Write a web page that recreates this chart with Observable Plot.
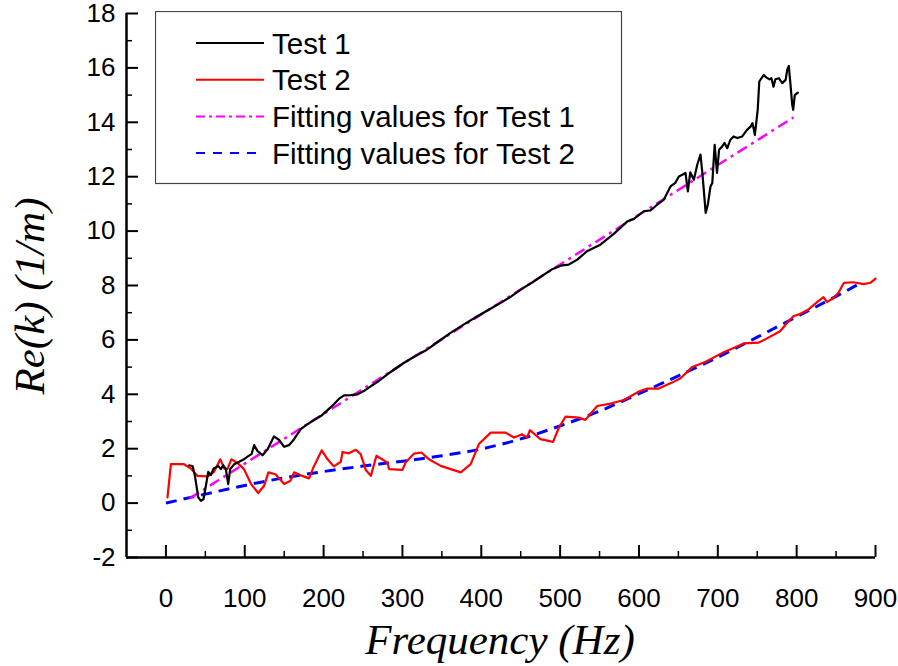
<!DOCTYPE html>
<html>
<head>
<meta charset="utf-8">
<script src="https://cdn.jsdelivr.net/npm/d3@7"></script>
<script src="https://cdn.jsdelivr.net/npm/@observablehq/plot@0.6"></script>
<style>
  html, body { margin: 0; padding: 0; background: #fff; }
  #chart { position: relative; width: 898px; height: 666px; }
  #legend { position: absolute; left: 155px; top: 11px; }
</style>
</head>
<body>
<div id="chart"></div>
<script>
// ---- Data ----
const test1Freq = [29.5,34,36.8,41,44.4,47.7,50.7,53.7,57,60.4,63.4,66.3,69.7,72.7,76,79,81.5,86.6,92.9,99,103.5,108.6,112,116,122.5,129,137,143.6,150,156,162.6,171,179.6,188,196.5,205,213,219.7,226,234.5,243,251,260,270,285,302,316,331.6,346,361,378,395,410,424.6,438,450,465,479.5,490,500.6,511,521.8,534,551,568,585,593.6,606,614.7,623,631.6,640,646,650.6,655,659,662,665,669.6,673.9,678,680.4,684.6,687.3,690.7,693,696,699,701.6,705.4,708.5,712,716,720,724.6,731,737,741.8,744,747,750.6,752.6,758.3,761,765.4,768,770.6,773,777.4,781.7,786,788,790,792,794.4,795.6,797.6,801.5];
const test1Value = [1.39,1.35,1.0,0.21,0.08,0.15,0.64,1.15,1.03,1.27,1.31,1.37,1.25,1.39,1.25,0.70,1.25,1.43,1.52,1.61,1.71,1.80,2.13,1.92,1.76,1.98,2.45,2.32,2.07,2.13,2.35,2.72,2.90,3.06,3.2,3.42,3.63,3.84,3.96,3.97,4.0,4.12,4.3,4.49,4.82,5.16,5.40,5.65,5.95,6.26,6.57,6.87,7.12,7.36,7.60,7.85,8.12,8.40,8.60,8.73,8.77,8.95,9.26,9.50,9.90,10.35,10.45,10.73,10.76,10.97,11.16,11.64,11.77,12.01,12.07,12.14,11.46,12.16,11.89,12.44,12.81,12.14,10.67,10.97,11.64,11.77,13.17,12.14,12.99,13.11,13.24,13.05,13.36,13.48,13.42,13.48,13.72,13.85,13.97,13.54,14.46,15.50,15.74,15.66,15.58,15.62,15.31,15.58,15.62,15.44,15.56,15.93,16.07,15.44,14.64,14.46,15.0,15.09];

const test2Freq = [2,6.3,23,31.7,40,53,61,69,74,78,83,91,99,108,117,124.6,130,139,150,158,162.6,173,181.6,187,197.7,205,213,221.8,224,232,240.8,247,253.5,260,267,281,283,300,304,314.7,324,333.7,348.5,374,386.6,397,412,431,441.5,452,458,461.7,475,491,498.5,507,524,532,547,564,581,600,610.5,625,642,652.7,667.5,684,707.6,733,752,760,779,788,796,805,815,826,834,838.6,847,853,860,872,885,893.5,900];
const test2Value = [0.21,1.43,1.43,1.27,1.0,0.98,1.15,1.61,1.27,1.25,1.61,1.47,1.25,0.70,0.37,0.64,1.13,1.06,0.70,0.82,1.13,1.0,0.91,1.31,1.94,1.61,1.35,1.52,1.88,1.83,1.96,1.80,1.22,1.0,1.74,1.49,1.25,1.22,1.49,1.82,1.86,1.61,1.37,1.13,1.43,2.17,2.59,2.59,2.41,2.53,2.41,2.68,2.35,2.25,2.78,3.18,3.14,3.06,3.57,3.66,3.79,4.10,4.21,4.21,4.43,4.59,5.0,5.19,5.55,5.87,5.90,6.02,6.32,6.63,6.87,6.96,7.12,7.39,7.57,7.39,7.55,7.73,8.10,8.12,8.05,8.10,8.25];

const fit1Freq  = [30,100,200,300,400,500,600,700,796];
const fit1Value = [0.17,1.45,3.28,5.11,6.94,8.77,10.6,12.43,14.18];

const fit2Freq  = [0,50,100,150,200,250,300,350,400,450,500,550,600,650,700,750,800,850,883];
const fit2Value = [0,0.33,0.65,0.93,1.16,1.36,1.54,1.74,1.99,2.36,2.84,3.38,4.02,4.68,5.36,6.1,6.85,7.6,8.12];

const xTicks = [0,100,200,300,400,500,600,700,800,900];
const xMinorTicks = [50,150,250,350,450,550,650,750,850];
const yTicks = [-2,0,2,4,6,8,10,12,14,16,18];
const yMinorTicks = [-1,1,3,5,7,9,11,13,15,17];

const seriesNames = ["Test 1","Test 2","Fitting values for Test 1","Fitting values for Test 2"];
const xTitle = "Frequency (Hz)";
const yTitle = "Re(k) (1/m)";

// ---- Build tables ----
const zip = (xs, ys) => xs.map((x, i) => ({x, y: ys[i]}));
const t1 = zip(test1Freq, test1Value);
const t2 = zip(test2Freq, test2Value);
const f1 = zip(fit1Freq, fit1Value);
const f2 = zip(fit2Freq, fit2Value);

const W = 898, H = 666;
const M = {left: 126, right: 23, top: 13, bottom: 109};
const innerW = W - M.left - M.right;
const innerH = H - M.top - M.bottom;
const fontSans = "'Liberation Sans', Arial, sans-serif";

const plot = Plot.plot({
  width: W, height: H,
  marginLeft: M.left, marginRight: M.right, marginTop: M.top, marginBottom: M.bottom,
  style: {fontFamily: fontSans, fontSize: "26px", color: "#000", background: "#fff", overflow: "visible"},
  x: {domain: [-50, 900], label: null},
  y: {domain: [-2, 18], label: null},
  marks: [
    Plot.axisX({ticks: xTicks, tickSize: 0, tickPadding: 31, tickFormat: d => String(d), fontSize: 26, label: null}),
    Plot.axisY({ticks: yTicks, tickSize: 0, tickPadding: 11, tickFormat: d => String(d), fontSize: 26, label: null}),
    // inward major ticks
    Plot.tickX(xTicks, {x: d => d, insetTop: innerH - 12, stroke: "#000", strokeWidth: 2}),
    Plot.tickY(yTicks, {y: d => d, insetRight: innerW - 12, stroke: "#000", strokeWidth: 2}),
    // minor ticks
    Plot.tickX(xMinorTicks, {x: d => d, insetTop: innerH - 6, stroke: "#000", strokeWidth: 1.5}),
    Plot.tickY(yMinorTicks, {y: d => d, insetRight: innerW - 6, stroke: "#000", strokeWidth: 1.5}),
    // axis lines
    Plot.ruleX([-50], {stroke: "#000", strokeWidth: 2.5}),
    Plot.ruleY([-2], {stroke: "#000", strokeWidth: 2.5}),
    // series
    Plot.line(f2, {x: "x", y: "y", curve: "monotone-x", stroke: "#0000ff", strokeWidth: 3, strokeDasharray: "11,7", strokeLinecap: "butt"}),
    Plot.line(f1, {x: "x", y: "y", stroke: "#ff00ff", strokeWidth: 2.5, strokeDasharray: "11,5,3,5", strokeLinecap: "butt"}),
    Plot.line(t2, {x: "x", y: "y", stroke: "#ff0000", strokeWidth: 2.2, strokeLinejoin: "round"}),
    Plot.line(t1, {x: "x", y: "y", stroke: "#000000", strokeWidth: 2.2, strokeLinejoin: "round"})
  ]
});

const chart = document.getElementById("chart");
chart.appendChild(plot);

// axis titles
const svg = d3.select(plot);
svg.append("text")
  .attr("x", 500).attr("y", 654)
  .attr("text-anchor", "middle")
  .style("font-family", "'Liberation Serif', 'Times New Roman', serif")
  .style("font-style", "italic").style("font-size", "43px").attr("fill", "#000")
  .text(xTitle);
svg.append("text")
  .attr("transform", "translate(44,296) rotate(-90)")
  .attr("text-anchor", "middle")
  .style("font-family", "'Liberation Serif', 'Times New Roman', serif")
  .style("font-style", "italic").style("font-size", "43px").attr("fill", "#000")
  .text(yTitle);

// legend (overlay)
const legendStyles = [
  {stroke: "#000000", dash: null, width: 2},
  {stroke: "#ff0000", dash: null, width: 2},
  {stroke: "#ff00ff", dash: "9,4,3,4", width: 2},
  {stroke: "#0000ff", dash: "9,8", width: 2}
];
const lg = d3.select(chart).append("svg").attr("id", "legend")
  .attr("width", 468).attr("height", 174);
lg.append("rect").attr("x", 0.5).attr("y", 0.5).attr("width", 466).attr("height", 172)
  .attr("fill", "#fff").attr("stroke", "#444").attr("stroke-width", 1.2);
seriesNames.forEach((name, i) => {
  const cy = 32 + i * 36.7;
  const s = legendStyles[i];
  lg.append("line").attr("x1", 41).attr("x2", 109).attr("y1", cy).attr("y2", cy)
    .attr("stroke", s.stroke).attr("stroke-width", s.width)
    .attr("stroke-dasharray", s.dash);
  lg.append("text").attr("x", 117).attr("y", cy + 10.5)
    .style("font-family", fontSans).style("font-size", "29.5px").attr("fill", "#000")
    .text(name);
});
</script>
</body>
</html>
